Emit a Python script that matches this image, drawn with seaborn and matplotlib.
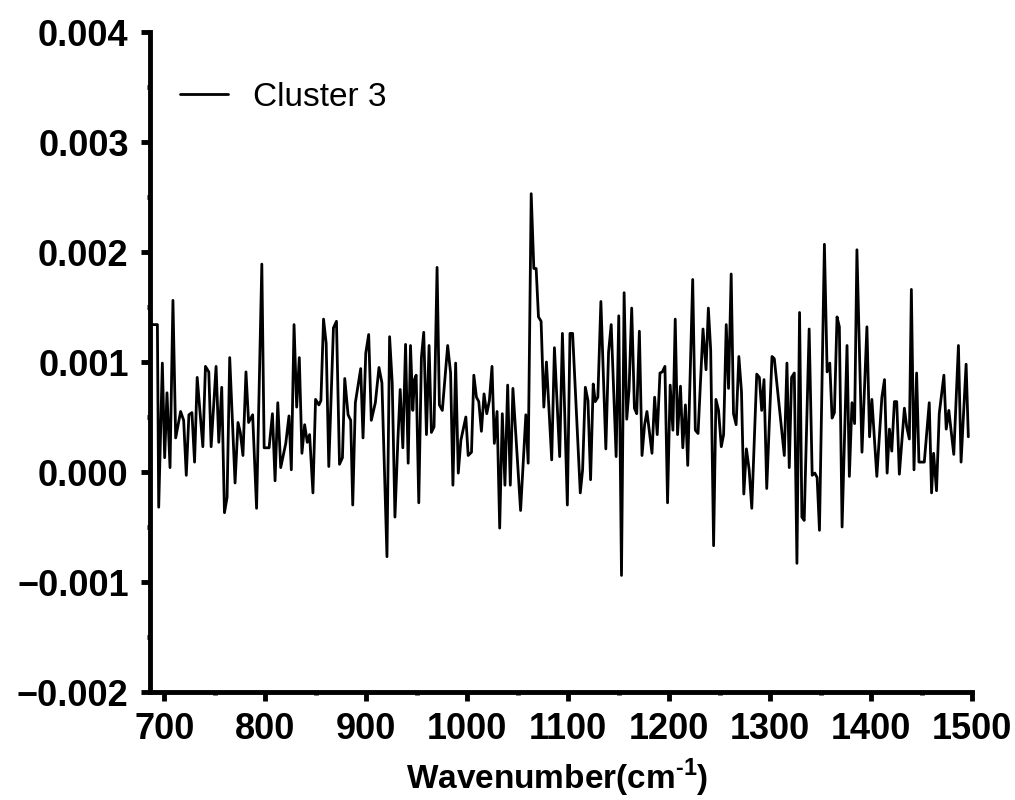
import matplotlib
matplotlib.use("Agg")
import matplotlib.pyplot as plt
import matplotlib.ticker as mticker
import seaborn as sns
import pandas as pd
import numpy as np

# Wavenumber (cm^-1)
wavenumber = [
    688.8, 693.1, 694.4, 698.0, 700.3, 702.6, 705.6, 708.5, 711.2, 716.1,
    719.1, 721.7, 724.3, 727.3, 729.9, 732.5, 738.1, 740.7, 744.0, 746.3,
    751.2, 753.9, 756.8, 759.5, 762.1, 764.7, 770.0, 772.9, 775.2, 777.8,
    780.8, 783.4, 787.4, 791.3, 796.5,
    798.8, 803.7, 807.0, 809.6, 812.3, 815.2, 820.2, 823.4, 825.7, 828.4,
    831.0, 833.6, 836.2, 838.9, 841.5, 843.8, 847.1, 849.7, 853.0, 855.0,
    857.6, 860.2, 862.8, 867.4, 870.4, 873.4, 876.3, 878.6, 881.9, 884.5,
    886.5, 889.1, 894.4, 896.7,
    899.4, 902.3, 904.9, 908.9, 912.5, 915.4, 920.4, 923.0, 925.6, 928.3,
    931.2, 933.5, 936.1, 938.8, 941.4, 943.7, 946.0, 947.6, 949.3, 951.9,
    954.5, 956.8, 959.5, 962.1, 964.4, 967.0, 970.0, 972.3, 975.2, 980.5,
    983.4, 985.7, 988.4, 991.0, 993.6, 998.5, 1000.8,
    1004.1, 1006.4, 1009.0, 1011.3, 1013.9, 1016.5, 1019.2, 1021.8, 1024.4,
    1026.7, 1029.4, 1032.0, 1034.6, 1037.2, 1039.9, 1042.5, 1045.1, 1052.7,
    1057.9, 1060.2, 1063.2, 1065.8, 1068.1, 1070.4, 1073.0, 1075.7, 1078.3,
    1083.5, 1086.2, 1091.4, 1094.1, 1099.0, 1101.6, 1104.2,
    1111.8, 1114.1, 1116.8, 1119.4, 1122.0, 1124.6, 1126.6, 1129.2, 1132.2,
    1137.1, 1139.8, 1142.4, 1147.3, 1149.9, 1152.6, 1155.2, 1157.8, 1160.1,
    1162.7, 1165.4, 1167.7, 1170.3, 1172.9, 1175.5, 1177.8, 1182.8, 1185.4,
    1188.0, 1190.7, 1193.0, 1195.6, 1198.2, 1200.8, 1203.5, 1205.8, 1208.1,
    1211.0, 1213.3, 1215.9, 1218.2, 1223.1, 1225.7, 1228.4, 1233.3, 1236.3,
    1238.6, 1240.9, 1243.8, 1246.1, 1248.7, 1251.4, 1253.7, 1256.3, 1258.6,
    1261.2, 1263.5, 1266.1, 1268.8, 1271.4, 1273.7, 1276.3, 1279.0, 1281.6,
    1286.5, 1289.1, 1291.4, 1293.7, 1296.4, 1301.6, 1303.9,
    1313.8, 1316.4, 1318.7, 1321.0, 1323.7, 1326.3, 1328.9, 1331.2, 1333.5,
    1338.4, 1341.4, 1344.0, 1346.3, 1348.6, 1353.5, 1356.2, 1358.8, 1361.1,
    1363.4, 1366.0, 1368.3, 1371.0, 1375.9, 1378.2, 1380.8, 1383.4, 1385.7,
    1390.7, 1395.6, 1398.2, 1400.5, 1405.4, 1410.4, 1413.0, 1415.6,
    1417.9, 1420.2, 1422.8, 1425.1, 1427.7, 1432.7, 1435.0, 1437.6, 1439.6,
    1442.2, 1444.8, 1447.1, 1452.4, 1457.3, 1459.6, 1461.6, 1464.5, 1467.2,
    1471.8, 1474.1, 1476.7, 1481.6, 1486.2, 1488.8, 1493.8, 1496.0,
]

# Cluster 3 intensity, in units of 1e-3
cluster3_milli = [
    1.34, 1.34, -0.32, 0.99, 0.13, 0.72, 0.04, 1.56, 0.31, 0.55,
    0.47, -0.03, 0.52, 0.54, 0.09, 0.86, 0.23, 0.96, 0.91, 0.23,
    0.96, 0.27, 0.77, -0.37, -0.23, 1.04, -0.10, 0.45, 0.36, 0.15,
    0.91, 0.45, 0.52, -0.33, 1.89,
    0.22, 0.22, 0.53, -0.08, 0.63, 0.04, 0.26, 0.51, 0.02, 1.34,
    0.59, 1.04, 0.17, 0.43, 0.27, 0.34, -0.19, 0.66, 0.61, 0.65,
    1.39, 1.17, 0.05, 1.31, 1.37, 0.07, 0.13, 0.85, 0.52, 0.47,
    -0.30, 0.63, 0.94, 0.31,
    1.08, 1.25, 0.47, 0.63, 0.95, 0.81, -0.77, 1.23, 0.81, -0.41,
    0.29, 0.75, 0.22, 1.16, 0.08, 1.15, 0.56, 0.84, 0.88, -0.28,
    1.04, 1.27, 0.34, 1.15, 0.36, 0.41, 1.86, 0.61, 0.56, 1.15,
    0.90, -0.12, 0.99, -0.01, 0.29, 0.50, 0.15,
    0.18, 0.88, 0.68, 0.64, 0.37, 0.71, 0.53, 0.65, 0.96,
    0.26, 0.55, -0.51, 0.53, -0.12, 0.79, -0.12, 0.76, -0.35,
    0.52, 0.08, 2.53, 1.85, 1.85, 1.41, 1.37, 0.59, 1.00,
    0.11, 1.13, 0.14, 1.26, -0.30, 1.26, 1.26,
    -0.19, 0.02, 0.77, 0.65, -0.07, 0.80, 0.64, 0.68, 1.55,
    0.21, 1.09, 1.34, 0.14, 1.42, -0.94, 1.63, 0.48, 0.75,
    1.49, 0.58, 0.53, 1.28, 0.15, 0.43, 0.55, 0.17, 0.68,
    0.34, 0.90, 0.91, 0.96, -0.28, 0.79, 0.38, 1.39, 0.34,
    0.78, 0.22, 0.61, 0.06, 1.75, 0.38, 0.35, 1.30, 0.93,
    1.49, 1.11, -0.67, 0.66, 0.56, 0.23, 0.34, 1.34, 0.76,
    1.80, 0.53, 0.43, 1.05, 0.73, -0.20, 0.21, 0.02, -0.33,
    0.89, 0.86, 0.56, 0.84, -0.15, 1.05, 1.03,
    0.15, 0.99, 0.04, 0.86, 0.90, -0.83, 1.45, -0.41, -0.44,
    1.30, -0.03, -0.01, -0.05, -0.53, 2.07, 0.91, 0.99, 0.49,
    0.54, 1.41, 1.32, -0.50, 1.15, -0.04, 0.63, 0.44, 2.02,
    0.18, 1.32, 0.32, 0.66, -0.04, 0.68, 0.84, -0.01,
    0.39, 0.19, 0.64, 0.64, -0.02, 0.58, 0.41, 0.30, 1.66,
    0.02, 0.90, 0.09, 0.09, 0.63, -0.19, 0.17, -0.17, 0.53,
    0.88, 0.39, 0.56, 0.16, 1.15, 0.09, 0.98, 0.32,
]

series_label = "Cluster 3"
x_ticks = [700, 800, 900, 1000, 1100, 1200, 1300, 1400, 1500]
y_ticks = [-0.002, -0.001, 0.000, 0.001, 0.002, 0.003, 0.004]

df = pd.DataFrame({
    "wavenumber": wavenumber,
    "value": np.array(cluster3_milli) * 1e-3,
})

sns.set_theme(style="ticks")
plt.rcParams["font.family"] = ["Liberation Sans", "DejaVu Sans"]
plt.rcParams["mathtext.fontset"] = "custom"
plt.rcParams["mathtext.rm"] = "Liberation Sans:bold"
plt.rcParams["mathtext.bf"] = "Liberation Sans:bold"
plt.rcParams["axes.unicode_minus"] = True
for key in ["text.color", "axes.labelcolor", "xtick.color", "ytick.color", "axes.edgecolor"]:
    plt.rcParams[key] = "black"

fig = plt.figure(figsize=(10.15, 8.0), dpi=100)
ax = fig.add_axes([0.148, 0.135, 0.810, 0.825])

sns.lineplot(data=df, x="wavenumber", y="value", ax=ax, color="black",
             linewidth=2.0, label=series_label, sort=False)

ax.set_xlim(686, 1500)
ax.set_ylim(-0.002, 0.004)
ax.set_xticks(x_ticks)
ax.set_yticks(y_ticks)
ax.xaxis.set_minor_locator(mticker.MultipleLocator(50))
ax.yaxis.set_minor_locator(mticker.MultipleLocator(0.0005))
ax.yaxis.set_major_formatter(
    mticker.FuncFormatter(lambda v, p: f"{v:.3f}".replace("-", "\u2212") if abs(v) > 1e-12 else "0.000"))

for side in ["top", "right"]:
    ax.spines[side].set_visible(False)
for side in ["left", "bottom"]:
    ax.spines[side].set_linewidth(3.5)
    ax.spines[side].set_color("black")

ax.tick_params(axis="both", which="major", direction="out", length=6.5, width=3.5,
               labelsize=26, colors="black")
ax.tick_params(axis="y", which="major", pad=9)
ax.tick_params(axis="x", which="major", pad=8)
ax.tick_params(axis="both", which="minor", direction="out", length=2.5, width=3.5, colors="black")
for lab in ax.get_xticklabels() + ax.get_yticklabels():
    lab.set_fontweight("bold")

ax.set_xlabel(r"Wavenumber(cm$^{\text{-}1}$)", fontsize=24, fontweight="bold")
ax.set_ylabel("")
ax.xaxis.set_label_coords(0.495, -0.098)

leg = ax.legend(loc="upper left", frameon=False, fontsize=24,
                handlelength=1.44, handletextpad=0.75,
                bbox_to_anchor=(0.0, 0.97))
for t in leg.get_texts():
    t.set_color("black")

fig.savefig("out.png", dpi=100)
